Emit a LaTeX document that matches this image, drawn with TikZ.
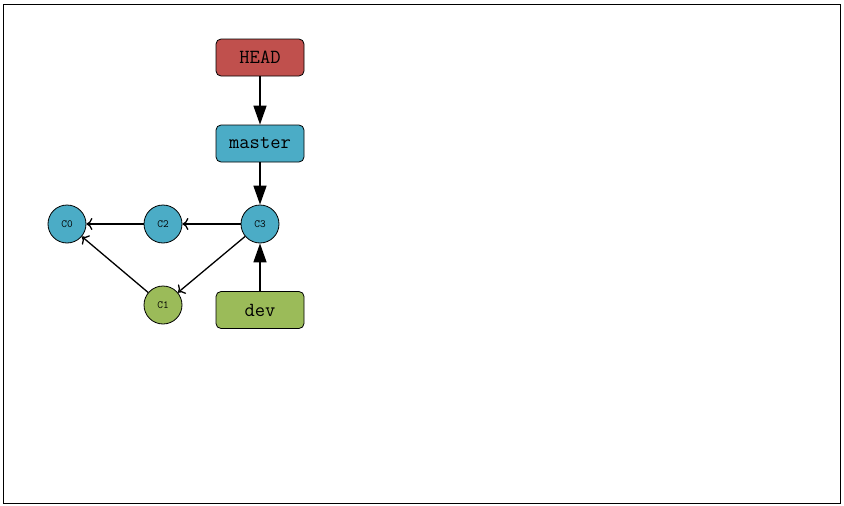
\documentclass[tikz,border=0pt]{standalone}
\usetikzlibrary{arrows.meta}
\definecolor{headred}{HTML}{C0504D}
\definecolor{mblue}{HTML}{4BACC6}
\definecolor{dgreen}{HTML}{9BBB59}
\begin{document}
\begin{tikzpicture}[x=1pt,y=-1pt,
  refbox/.style={draw=black,line width=0.8pt,rounded corners=5pt,minimum width=88pt,minimum height=37pt,inner sep=0pt,font=\ttfamily\fontsize{20}{22}\selectfont},
  commit/.style={draw=black,line width=0.8pt,circle,minimum size=38pt,inner sep=0pt,font=\ttfamily\fontsize{11}{12}\selectfont},
  bigarrow/.style={-{Triangle[length=19pt,width=13pt]},line width=1.6pt},
  smallarrow/.style={-{To[length=6pt,width=12pt]},line width=1.3pt}]
\useasboundingbox (0,0) rectangle (844,506);
\draw[line width=0.8pt] (3.5,4.5) rectangle (840.5,503.5);
\node[refbox,fill=headred] (head) at (260,57.5) {HEAD};
\node[refbox,fill=mblue] (master) at (260,143.5) {master};
\node[refbox,fill=dgreen] (dev) at (260,310) {dev};
\node[commit,fill=mblue] (c0) at (67,224) {C0};
\node[commit,fill=mblue] (c2) at (163,224) {C2};
\node[commit,fill=mblue] (c3) at (260,224) {C3};
\node[commit,fill=dgreen] (c1) at (163,305) {C1};
\draw[bigarrow] (head.south) -- (master.north);
\draw[bigarrow] (master.south) -- (c3.north);
\draw[bigarrow] (dev.north) -- (c3.south);
\draw[smallarrow] (c3) -- (c2);
\draw[smallarrow] (c2) -- (c0);
\draw[smallarrow] (c3) -- (c1);
\draw[smallarrow] (c1) -- (c0);
\end{tikzpicture}
\end{document}
